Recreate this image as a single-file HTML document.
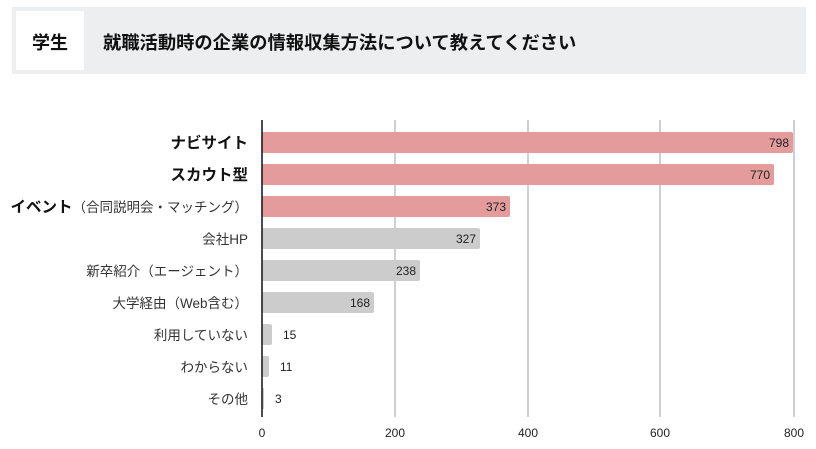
<!DOCTYPE html>
<html><head><meta charset="utf-8"><style>
body{margin:0;background:#fff;width:816px;height:449px;overflow:hidden;font-family:"Liberation Sans","Noto Sans CJK JP",sans-serif;}
</style></head><body>
<svg width="816" height="449" xmlns="http://www.w3.org/2000/svg" style="position:absolute;left:0;top:0;font-family:'Liberation Sans','Noto Sans CJK JP',sans-serif">
<rect x="12" y="7" width="794" height="67" fill="#eceeef"/>
<rect x="16" y="11" width="68" height="59" fill="#fff"/>
<text x="50" y="49" text-anchor="middle" font-size="18" font-weight="bold" fill="#111">学生</text>
<text x="103" y="49" font-size="18.3" font-weight="bold" fill="#111">就職活動時の企業の情報収集方法について教えてください</text>
<g stroke="#cfcfcf" stroke-width="2">
<line x1="395" y1="120" x2="395" y2="417"/><line x1="528" y1="120" x2="528" y2="417"/>
<line x1="660" y1="120" x2="660" y2="417"/><line x1="794" y1="120" x2="794" y2="417"/>
</g>
<g fill="#e39b9b">
<rect x="262" y="132" width="531" height="21" rx="2"/>
<rect x="262" y="164" width="512" height="21" rx="2"/>
<rect x="262" y="196" width="248" height="21" rx="2"/>
</g>
<g fill="#cccccc">
<rect x="262" y="228" width="218" height="21" rx="2"/>
<rect x="262" y="260" width="158" height="21" rx="2"/>
<rect x="262" y="292" width="112" height="21" rx="2"/>
<rect x="262" y="324" width="10" height="21" rx="2"/>
<rect x="262" y="356" width="7" height="21" rx="2"/>
<rect x="262" y="388" width="2" height="21"/>
</g>
<line x1="262" y1="120" x2="262" y2="417" stroke="#111" stroke-width="1.5"/>
<g font-size="12" fill="#222" text-anchor="end">
<text x="789" y="147">798</text><text x="770" y="179">770</text><text x="506" y="211">373</text>
<text x="476" y="243">327</text><text x="416" y="275">238</text><text x="370" y="307">168</text>
</g>
<g font-size="12" fill="#222">
<text x="283" y="339">15</text><text x="280" y="371">11</text><text x="275" y="403">3</text>
</g>
<g text-anchor="end" fill="#111">
<text x="248" y="148" font-size="15.5" font-weight="bold">ナビサイト</text>
<text x="248" y="180" font-size="15.5" font-weight="bold">スカウト型</text>
<text x="248" y="212" font-size="13.5"><tspan font-size="15.5" font-weight="bold">イベント</tspan><tspan fill="#333">（合同説明会・マッチング）</tspan></text>
<g font-size="13.5" fill="#333">
<text x="248" y="244">会社HP</text>
<text x="248" y="276">新卒紹介（エージェント）</text>
<text x="248" y="308">大学経由（Web含む）</text>
<text x="248" y="340">利用していない</text>
<text x="248" y="372">わからない</text>
<text x="248" y="404">その他</text>
</g>
</g>
<g font-size="12" fill="#222" text-anchor="middle">
<text x="262" y="437">0</text><text x="395" y="437">200</text><text x="528" y="437">400</text>
<text x="660" y="437">600</text><text x="794" y="437">800</text>
</g>
</svg>
</body></html>
